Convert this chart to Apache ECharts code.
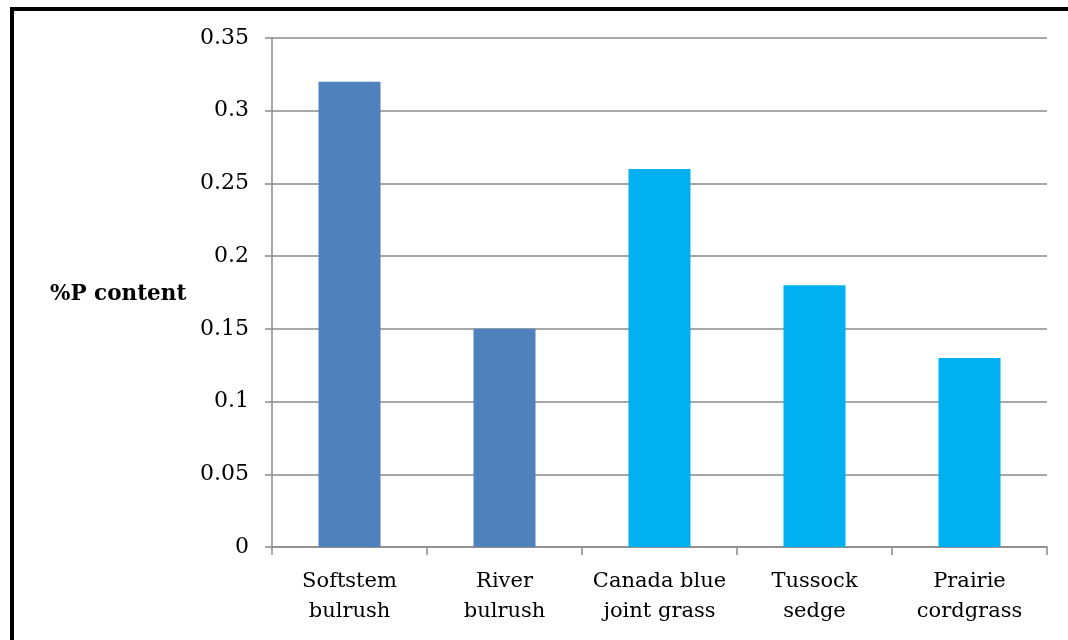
<!DOCTYPE html>
<html>
<head>
<meta charset="utf-8">
<script src="https://cdn.jsdelivr.net/npm/echarts@6/dist/echarts.min.js"></script>
<style>
  html, body { margin: 0; padding: 0; background: #fff; }
  #chart { width: 1068px; height: 640px; }
</style>
</head>
<body>
<div id="chart"></div>
<script>
// Phosphorus content by plant species
const categories = ['Softstem\nbulrush', 'River\nbulrush', 'Canada blue\njoint grass', 'Tussock\nsedge', 'Prairie\ncordgrass'];
const pContent = [0.32, 0.15, 0.26, 0.18, 0.13];
const barColors = ['#4F81BD', '#4F81BD', '#00B0F0', '#00B0F0', '#00B0F0'];
const yTicks = { min: 0, max: 0.35, interval: 0.05 };
const yTitle = '%P content';

const serif = '"DejaVu Serif", "Liberation Serif", serif';
const gridGray = '#8a8a8a';

const chart = echarts.init(document.getElementById('chart'), null, { renderer: 'canvas' });
chart.setOption({
  backgroundColor: '#ffffff',
  animation: false,
  grid: { left: 272, right: 21, top: 38, bottom: 93, containLabel: false },
  xAxis: {
    type: 'category',
    data: categories,
    axisLine: { lineStyle: { color: gridGray, width: 1.5 } },
    axisTick: { show: true, length: 8, interval: 0, lineStyle: { color: gridGray, width: 1.5 } },
    axisLabel: {
      color: '#000', fontFamily: serif, fontSize: 21, lineHeight: 30, margin: 20,
      interval: 0, hideOverlap: false
    }
  },
  yAxis: {
    type: 'value',
    min: yTicks.min, max: yTicks.max, interval: yTicks.interval,
    axisLine: { show: true, lineStyle: { color: gridGray, width: 1.5 } },
    axisTick: { show: true, length: 7, lineStyle: { color: gridGray, width: 1.5 } },
    splitLine: { lineStyle: { color: gridGray, width: 1.5 } },
    axisLabel: {
      color: '#000', fontFamily: serif, fontSize: 22, margin: 23,
      formatter: v => String(Math.round(v * 100) / 100)
    }
  },
  series: [{
    type: 'bar',
    data: pContent.map((v, i) => ({ value: v, itemStyle: { color: barColors[i] } })),
    barWidth: '40%'
  }],
  graphic: [
    {
      type: 'text', left: 50, top: 283,
      style: { text: yTitle, fill: '#000', font: 'bold 21.5px ' + serif }
    },
    {
      type: 'rect', shape: { x: 12, y: 9, width: 1200, height: 800 },
      style: { fill: 'none', stroke: '#000', lineWidth: 4 }, z: 100
    }
  ]
});
</script>
</body>
</html>
